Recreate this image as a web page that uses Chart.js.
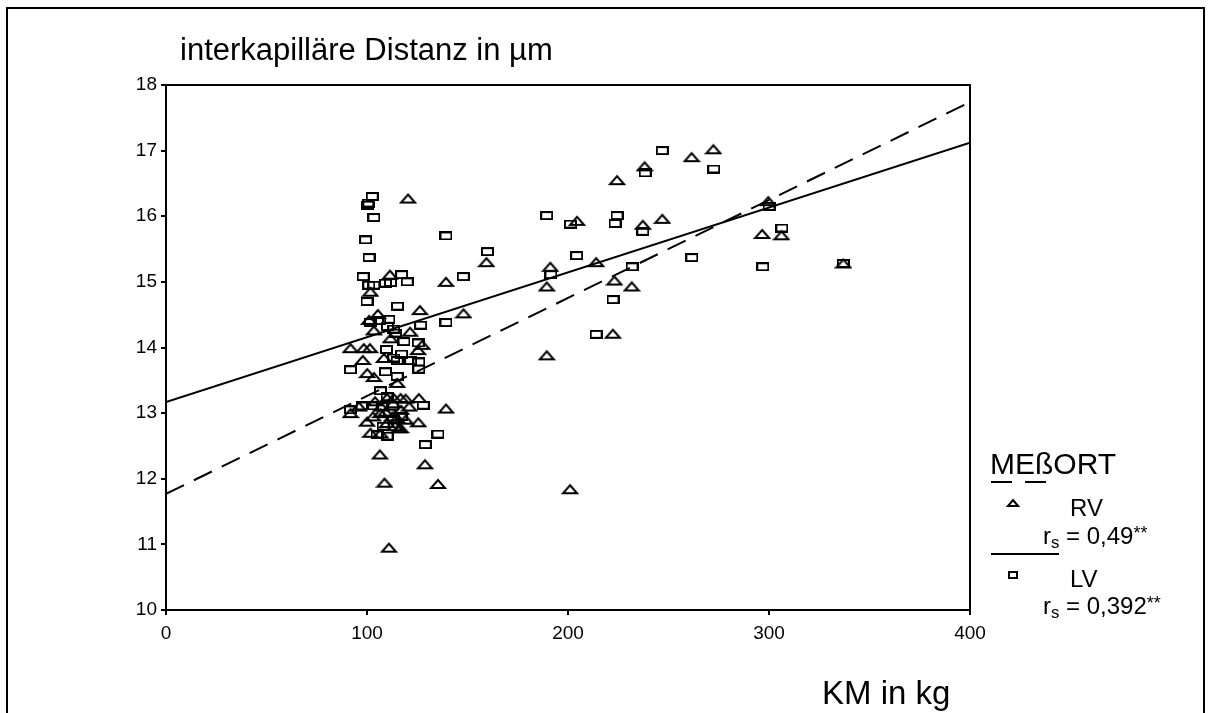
<!DOCTYPE html>
<html><head><meta charset="utf-8">
<script src="https://cdn.jsdelivr.net/npm/chart.js@4/dist/chart.umd.min.js"></script>
<style>
html,body{margin:0;padding:0;background:#fff;}
#wrap{position:relative;width:1213px;height:713px;overflow:hidden;font-family:"Liberation Sans",Arial,sans-serif;}
#frame{position:absolute;left:6px;top:7px;width:1199px;height:730px;border:2px solid #000;box-sizing:border-box;}
canvas{position:absolute;left:0;top:0;}
.t{position:absolute;white-space:nowrap;color:#000;line-height:1;}
.sub{font-size:0.7em;position:relative;top:0.25em;}
.sup{font-size:0.75em;position:relative;top:-0.3em;}
</style></head><body>
<div id="wrap">
<div id="frame"></div>
<canvas id="c" width="1213" height="713"></canvas>
<div class="t" style="left:180px;top:34px;font-size:31px;">interkapilläre Distanz in µm</div>
<div class="t" style="left:822px;top:676px;font-size:33px;">KM in kg</div>
<div class="t" style="left:990px;top:449px;font-size:30px;">MEßORT</div>
<div class="t" style="left:1070px;top:496px;font-size:24px;">RV</div>
<div class="t" style="left:1043px;top:524px;font-size:24px;">r<span class="sub">s</span> = 0,49<span class="sup">**</span></div>
<div class="t" style="left:1070px;top:567px;font-size:24px;">LV</div>
<div class="t" style="left:1043px;top:594px;font-size:24px;">r<span class="sub">s</span> = 0,392<span class="sup">**</span></div>
</div>
<script>
// ---- data ----
const rvX = [120.4,111.4,139.3,101.7,105.4,101,126.3,148,159.4,103.4,121.4,111.7,127.5,91.8,98.4,101.4,125.4,108.4,97.9,100.1,103.4,115,110,113.3,116.7,119.2,125.8,139.3,91.8,106.7,109.2,112.6,100,115,119.2,125.5,101.7,106.7,115.9,106.4,128.8,108.7,135.3,110.9,104,107,113,117,110,103,114,121,96,116.7,
  189.4,191.2,189.4,201,204.5,214,223.1,222.3,224.4,231.7,238.1,237.2,246.9,261.5,272.3,296.6,299.6,306.2,337];
const rvY = [16.27,15.11,15.0,14.85,14.51,14.42,14.57,14.52,15.30,14.26,14.24,14.14,14.04,13.99,13.99,13.99,13.96,13.84,13.81,13.61,13.55,13.46,13.23,13.23,13.23,13.22,13.23,13.07,13.0,13.0,13.02,12.95,12.87,12.92,12.90,12.86,12.70,12.69,12.77,12.37,12.22,11.94,11.92,10.95,13.18,13.1,13.15,13.05,12.85,12.95,12.8,13.1,13.1,12.77,
  14.93,15.23,13.88,11.84,15.93,15.30,15.02,14.21,16.55,14.93,16.76,15.87,15.96,16.90,17.02,15.73,16.23,15.71,15.28];
const lvX = [102.6,100.9,100.4,103.4,99.3,101,139.3,159.9,98.1,117.2,100.9,103.4,109.2,111.7,120,147.9,100,115.2,101.7,106.4,110.9,110.2,126.7,139.3,113.3,114.2,118.4,125.5,109.7,117.2,113.3,115,121.7,125.8,109.2,91.8,125.8,115,106.7,110,97.6,102.6,107.6,112.6,128,91.8,105,110,135.3,129,113,117,111,108,
  189.4,201.2,224.4,223.4,237.2,238.4,246.9,272.5,204.3,191.5,231.9,222.4,214,261.6,296.9,300,306.4,337];
const lvY = [16.30,16.20,16.17,15.98,15.64,15.37,15.70,15.46,15.08,15.11,14.95,14.95,14.98,14.99,15.0,15.08,14.70,14.63,14.38,14.41,14.43,14.32,14.34,14.38,14.28,14.22,14.09,14.07,13.97,13.90,13.84,13.80,13.80,13.78,13.63,13.66,13.67,13.56,13.34,13.25,13.11,13.11,13.10,13.11,13.12,13.05,12.67,12.65,12.68,12.52,12.9,12.95,13.0,12.8,
  16.01,15.88,16.01,15.89,15.77,16.66,17.0,16.72,15.40,15.11,15.23,14.73,14.20,15.37,15.23,16.15,15.82,15.28];
const fitX = [0, 400];
const rvFitY = [11.77, 17.74];
const lvFitY = [13.17, 17.12];
const xTicks = [0,100,200,300,400];
const yTicks = [10,11,12,13,14,15,16,17,18];

// ---- markers ----
function triImg(w,h,lw){const c=document.createElement('canvas');c.width=w+lw*2;c.height=h+lw*2;const g=c.getContext('2d');g.lineWidth=lw;g.strokeStyle='#000';g.lineJoin='miter';g.beginPath();g.moveTo(c.width/2,lw);g.lineTo(c.width-lw,c.height-lw);g.lineTo(lw,c.height-lw);g.closePath();g.stroke();return c;}
function boxImg(w,h,lw){const c=document.createElement('canvas');c.width=w+lw;c.height=h+lw;const g=c.getContext('2d');g.lineWidth=lw;g.strokeStyle='#000';g.strokeRect(lw/2,lw/2,w,h);return c;}
const tri = triImg(14,8,2);
const box = boxImg(11,7,2);
const triS = triImg(10,6,2);
const boxS = boxImg(8,6,2);

const pts = (xs,ys)=>xs.map((x,i)=>({x:x,y:ys[i]}));

const L=166,R=970,T=85,B=610;
const framePlugin = {
  id:'frame',
  afterDraw(chart){
    const g=chart.ctx, a=chart.chartArea;
    g.save();
    g.strokeStyle='#000';g.lineWidth=2;
    g.strokeRect(a.left,a.top,a.right-a.left,a.bottom-a.top);
    g.setLineDash([]);
    g.beginPath();g.moveTo(991,482);g.lineTo(1012,482);g.moveTo(1025,482);g.lineTo(1046,482);g.stroke();
    g.beginPath();g.moveTo(991,554);g.lineTo(1059,554);g.stroke();
    g.drawImage(triS,1013-triS.width/2,503-triS.height/2);
    g.drawImage(boxS,1013-boxS.width/2,575-boxS.height/2);
    g.restore();
  }
};

new Chart(document.getElementById('c'),{
  type:'scatter',
  data:{datasets:[
    {label:'RV',data:pts(rvX,rvY),pointStyle:tri,pointRadius:7,showLine:false},
    {label:'LV',data:pts(lvX,lvY),pointStyle:box,pointRadius:6,showLine:false},
    {label:'RV fit',data:pts(fitX,rvFitY),showLine:true,pointRadius:0,borderColor:'#000',borderWidth:2,borderDash:[20,11],fill:false},
    {label:'LV fit',data:pts(fitX,lvFitY),showLine:true,pointRadius:0,borderColor:'#000',borderWidth:2,fill:false}
  ]},
  options:{
    responsive:false,devicePixelRatio:1,animation:false,
    layout:{padding:{left:0,right:1213-R,top:T,bottom:0}},
    plugins:{legend:{display:false},tooltip:{enabled:false}},
    scales:{
      x:{type:'linear',min:0,max:400,
        afterBuildTicks(s){s.ticks=xTicks.map(v=>({value:v}));},
        afterFit(s){s.height=713-B;},
        grid:{drawOnChartArea:false,drawTicks:true,tickLength:5,color:'#000',lineWidth:2},
        border:{display:false},
        ticks:{color:'#000',font:{family:'"Liberation Sans", Arial',size:19},padding:7,maxRotation:0}},
      y:{type:'linear',min:10,max:18,
        afterBuildTicks(s){s.ticks=yTicks.map(v=>({value:v}));},
        afterFit(s){s.width=L;},
        grid:{drawOnChartArea:false,drawTicks:true,tickLength:5,color:'#000',lineWidth:2},
        border:{display:false},
        ticks:{color:'#000',font:{family:'"Liberation Sans", Arial',size:19},padding:4}}
    }
  },
  plugins:[framePlugin]
});
</script>
</body></html>
